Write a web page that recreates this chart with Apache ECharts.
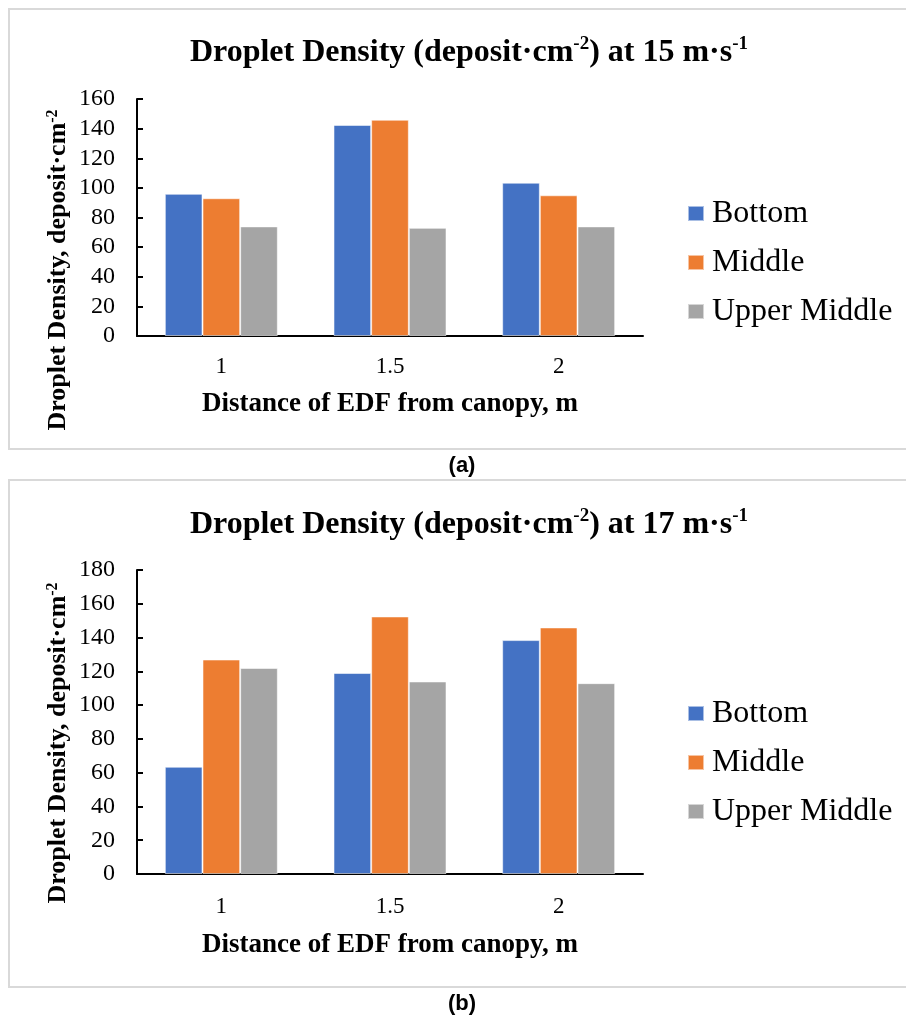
<!DOCTYPE html>
<html>
<head>
<meta charset="utf-8">
<script src="https://cdn.jsdelivr.net/npm/echarts@6/dist/echarts.min.js"></script>
<style>
  html, body { margin: 0; padding: 0; background: #fff; }
  #chart { width: 906px; height: 1018px; }
</style>
</head>
<body>
<div id="chart"></div>
<script>
// Distance of the electrostatic deposition frame (EDF) from the canopy, m
const categories = ['1', '1.5', '2'];
const seriesNames = ['Bottom', 'Middle', 'Upper Middle'];
const seriesColors = ['#4472C4', '#ED7D31', '#A5A5A5'];

// Droplet density (deposit·cm⁻²) at 15 m·s⁻¹
const bottom15 = [96, 142.5, 103.5];
const middle15 = [93, 146, 95];
const upperMiddle15 = [74, 73, 74];

// Droplet density (deposit·cm⁻²) at 17 m·s⁻¹
const bottom17 = [63.5, 119, 138.5];
const middle17 = [127, 152.5, 146];
const upperMiddle17 = [122, 114, 113];

// Value axis ranges
const yMax15 = 160;
const yMax17 = 180;
const yStep = 20;

const serif = 'Liberation Serif, Times New Roman, serif';
const sans = 'Liberation Sans, Arial, sans-serif';

const supStyle = {
  fontFamily: serif, fontWeight: 'bold', fontSize: 19, color: '#000',
  verticalAlign: 'top', lineHeight: 20
};

function titleFor(speed, y) {
  return {
    text: 'Droplet Density (deposit·cm{sup|-2}) at ' + speed + ' m·s{sup|-1}',
    left: 464, top: y, textAlign: 'center',
    textStyle: {
      fontFamily: serif, fontWeight: 'bold', fontSize: 32, color: '#000',
      lineHeight: 36,
      rich: { sup: supStyle }
    }
  };
}

function yNameText(cx, cy) {
  return {
    type: 'text',
    x: cx, y: cy,
    rotation: Math.PI / 2,
    style: {
      text: 'Droplet Density, deposit·cm{sup|-2}',
      fontFamily: serif, fontWeight: 'bold', fontSize: 26, fill: '#000',
      align: 'center', verticalAlign: 'middle',
      rich: { sup: { fontFamily: serif, fontWeight: 'bold', fontSize: 16, fill: '#000', verticalAlign: 'top', lineHeight: 16 } }
    }
  };
}

function xAxisFor(gridIndex, labelMargin, nameGap) {
  return {
    type: 'category', gridIndex: gridIndex, data: categories,
    axisLine: { lineStyle: { color: '#000', width: 2 } },
    axisTick: { show: false },
    axisLabel: { fontFamily: serif, fontSize: 23, color: '#000', margin: labelMargin },
    name: 'Distance of EDF from canopy, m',
    nameLocation: 'middle', nameGap: nameGap,
    nameTextStyle: { fontFamily: serif, fontWeight: 'bold', fontSize: 27, color: '#000' }
  };
}

function yAxisFor(gridIndex, max) {
  return {
    type: 'value', gridIndex: gridIndex, min: 0, max: max, interval: yStep,
    axisLine: { show: true, lineStyle: { color: '#000', width: 2 } },
    axisTick: { show: true, inside: true, length: 6, lineStyle: { color: '#000', width: 2 } },
    axisLabel: { fontFamily: serif, fontSize: 24, color: '#000', margin: 22 },
    splitLine: { show: false }
  };
}

function barSeries(name, color, data, axisIndex) {
  return {
    type: 'bar', name: name, data: data,
    xAxisIndex: axisIndex, yAxisIndex: axisIndex,
    barGap: '0%', barCategoryGap: '33%',
    itemStyle: { color: color, borderColor: 'rgba(255,255,255,0.55)', borderWidth: 1 },
    emphasis: { disabled: true }
  };
}

function legendFor(top, names) {
  return {
    orient: 'vertical', left: 687, top: top, padding: 0,
    data: names,
    icon: 'rect', itemWidth: 16, itemHeight: 15, itemGap: 16,
    textStyle: { fontFamily: serif, fontSize: 32, color: '#000', lineHeight: 33, padding: [0, 0, 0, 3] },
    selectedMode: false
  };
}

const chart = echarts.init(document.getElementById('chart'), null, { renderer: 'canvas' });

chart.setOption({
  animation: false,
  backgroundColor: '#fff',
  color: seriesColors,
  title: [titleFor(15, 30), titleFor(17, 502)],
  grid: [
    { left: 137, top: 99, width: 506, height: 237 },
    { left: 137, top: 570, width: 506, height: 304 }
  ],
  xAxis: [xAxisFor(0, 19, 55), xAxisFor(1, 21, 58)],
  yAxis: [yAxisFor(0, yMax15), yAxisFor(1, yMax17)],
  legend: [
    legendFor(197, seriesNames),
    legendFor(697, seriesNames)
  ],
  series: [
    barSeries(seriesNames[0], seriesColors[0], bottom15, 0),
    barSeries(seriesNames[1], seriesColors[1], middle15, 0),
    barSeries(seriesNames[2], seriesColors[2], upperMiddle15, 0),
    barSeries(seriesNames[0], seriesColors[0], bottom17, 1),
    barSeries(seriesNames[1], seriesColors[1], middle17, 1),
    barSeries(seriesNames[2], seriesColors[2], upperMiddle17, 1)
  ],
  graphic: [
    // panel frames
    { type: 'rect', shape: { x: 9, y: 9, width: 910, height: 440 }, style: { fill: 'none', stroke: '#d9d9d9', lineWidth: 2 }, z: -1 },
    { type: 'rect', shape: { x: 9, y: 480, width: 910, height: 507 }, style: { fill: 'none', stroke: '#d9d9d9', lineWidth: 2 }, z: -1 },
    // panel captions
    { type: 'text', x: 462, y: 466, style: { text: '(a)', fontFamily: sans, fontWeight: 'bold', fontSize: 22, fill: '#000', align: 'center', verticalAlign: 'middle' } },
    { type: 'text', x: 462, y: 1004, style: { text: '(b)', fontFamily: sans, fontWeight: 'bold', fontSize: 22, fill: '#000', align: 'center', verticalAlign: 'middle' } },
    // value axis titles
    yNameText(58, 270),
    yNameText(58, 743)
  ]
});
</script>
</body>
</html>
